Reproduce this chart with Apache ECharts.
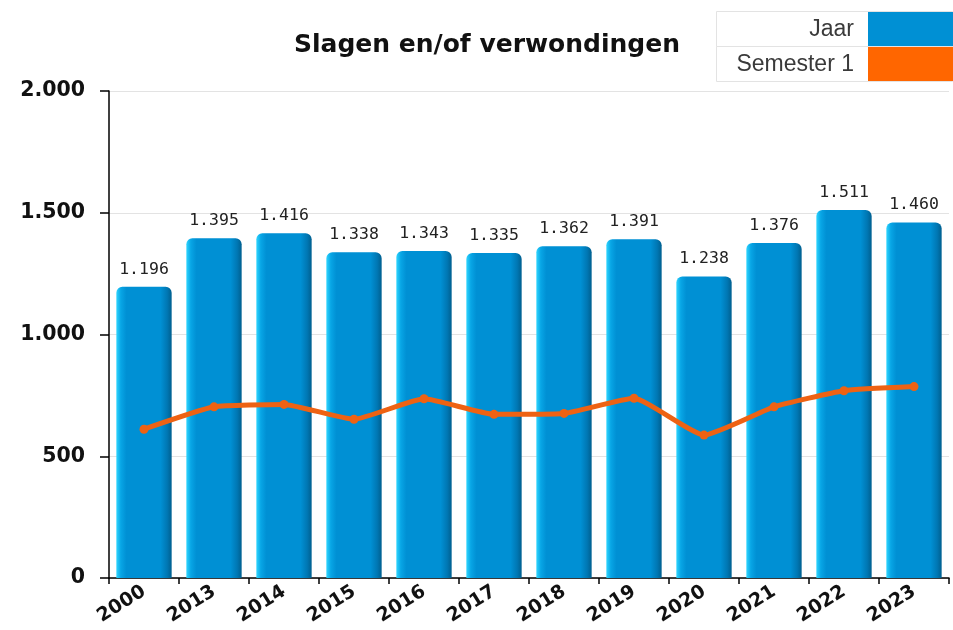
<!DOCTYPE html>
<html><head><meta charset="utf-8">
<script src="https://cdn.jsdelivr.net/npm/echarts@6/dist/echarts.min.js"></script>
<style>html,body{margin:0;padding:0;background:#fff}#c{width:953px;height:630px}</style>
</head><body><div id="c"></div>
<script>
var categories = ['2000','2013','2014','2015','2016','2017','2018','2019','2020','2021','2022','2023'];
var jaar = [1196,1395,1416,1338,1343,1335,1362,1391,1238,1376,1511,1460];
var semester1 = [611,703,713,652,736,672,676,738,587,703,769,786];
var yTicks = [0,500,1000,1500,2000];

function fmt(v){ return String(v).replace(/\B(?=(\d{3})+(?!\d))/g,'.'); }

var chart = echarts.init(document.getElementById('c'));
chart.setOption({
  animation:false,
  title:{text:'Slagen en/of verwondingen', left:482, top:28, textAlign:'center',
    textStyle:{fontFamily:'DejaVu Sans', fontWeight:'bold', fontSize:25, color:'#111'}},
  grid:{left:109, right:4, top:91, bottom:52},
  xAxis:{type:'category', data:categories, boundaryGap:true,
    axisLine:{lineStyle:{color:'#000', width:1.5}},
    axisTick:{show:true, length:6, lineStyle:{color:'#000', width:1.5}},
    axisLabel:{rotate:32, margin:12, fontFamily:'DejaVu Sans', fontWeight:'bold', fontSize:19, color:'#111'}},
  yAxis:{type:'value', min:yTicks[0], max:yTicks[yTicks.length-1], interval:500,
    axisLine:{show:true, lineStyle:{color:'#000', width:1.5}},
    axisTick:{show:true, length:9, lineStyle:{color:'#000', width:1.5}},
    splitLine:{lineStyle:{color:'#e3e3e3'}},
    axisLabel:{margin:24, fontFamily:'DejaVu Sans', fontWeight:'bold', fontSize:20.5, color:'#111', formatter:fmt}},
  series:[
    {type:'bar', name:'Jaar', data:jaar, barCategoryGap:'21%',
     itemStyle:{borderRadius:[6,6,0,0],
       color:new echarts.graphic.LinearGradient(0,0,1,0,[
         {offset:0,color:'#2fd6ff'},{offset:0.08,color:'#08a6e6'},{offset:0.18,color:'#0090d4'},
         {offset:0.8,color:'#0090d4'},{offset:0.92,color:'#0077b3'},{offset:1,color:'#005f8f'}])},
     label:{show:true, position:'top', distance:9, formatter:function(p){return fmt(p.value);},
       fontFamily:'DejaVu Sans Mono', fontSize:16.5, color:'#222'}},
    {type:'line', name:'Semester 1', data:semester1, smooth:0.15,
     lineStyle:{color:'#ee6213', width:5},
     itemStyle:{color:'#ee6213'}, symbol:'circle', symbolSize:9, z:5}
  ],
  graphic:[
    {type:'rect', shape:{x:716.5,y:11.5,width:236,height:35}, style:{fill:'#fff',stroke:'#e3e3e3',lineWidth:1}},
    {type:'rect', shape:{x:716.5,y:46.5,width:236,height:35}, style:{fill:'#fff',stroke:'#e3e3e3',lineWidth:1}},
    {type:'rect', shape:{x:868,y:12,width:85,height:34}, style:{fill:'#0090d4'}},
    {type:'rect', shape:{x:868,y:47,width:85,height:34}, style:{fill:'#ff6600'}},
    {type:'text', style:{x:854,y:29.5,text:'Jaar',textAlign:'right',textVerticalAlign:'middle',font:'23px "Liberation Sans"',fill:'#3a3a3a'}},
    {type:'text', style:{x:854,y:64.5,text:'Semester 1',textAlign:'right',textVerticalAlign:'middle',font:'23px "Liberation Sans"',fill:'#3a3a3a'}}
  ]
});
</script></body></html>
